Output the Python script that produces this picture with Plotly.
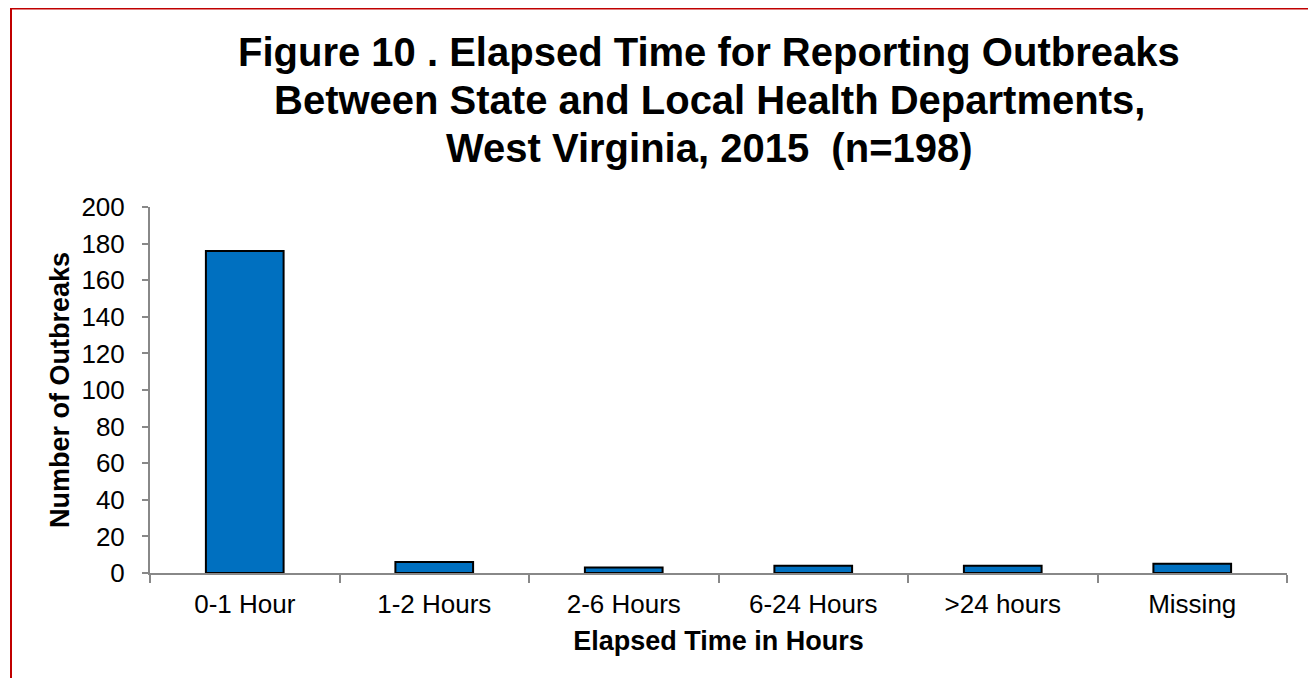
import plotly.graph_objects as go

categories = ["0-1 Hour", "1-2 Hours", "2-6 Hours", "6-24 Hours", ">24 hours", "Missing"]
outbreaks = [176, 6, 3, 4, 4, 5]

title_lines = [
    "Figure 10 . Elapsed Time for Reporting Outbreaks",
    "Between State and Local Health Departments,",
    "West Virginia, 2015  (n=198)",
]

# figure sits 8px in from the page corner (body margin)
W, H = 1308, 670
L, R, T, B = 142, 29, 199, 105
plot_w = W - L - R
plot_h = H - T - B

fig = go.Figure()
fig.add_trace(go.Bar(
    x = categories,
    y = outbreaks,
    marker = dict(color = "#0070C0", line = dict(color = "black", width = 2)),
))

axis_grey = "#888888"

fig.update_layout(
    width = W,
    height = H,
    plot_bgcolor = "white",
    paper_bgcolor = "white",
    showlegend = False,
    bargap = 0.59,
    margin = dict(l = L, r = R, t = T, b = B),
    font = dict(family = "Liberation Sans, Arial, sans-serif", color = "black"),
)

# title, one line per annotation so the line spacing can be matched
for i, line in enumerate(title_lines):
    yc = 44 + 48 * i
    fig.add_annotation(
        text = "<b>" + line + "</b>",
        xref = "paper", yref = "paper",
        x = (701 - L) / plot_w,
        y = (H - B - yc) / plot_h,
        xanchor = "center", yanchor = "middle",
        showarrow = False,
        font = dict(size = 40, color = "black"),
    )

fig.update_xaxes(
    showline = True,
    linecolor = axis_grey,
    linewidth = 2,
    ticks = "outside",
    tickson = "boundaries",
    ticklen = 8,
    tickcolor = axis_grey,
    tickwidth = 1.5,
    ticklabelstandoff = 7,
    tickfont = dict(size = 26),
    title = dict(text = "<b>Elapsed Time in Hours</b>", font = dict(size = 27), standoff = 13),
)

fig.update_yaxes(
    range = [0, 200],
    dtick = 20,
    showgrid = False,
    zeroline = False,
    showline = True,
    linecolor = axis_grey,
    linewidth = 2,
    ticks = "outside",
    ticklen = 6,
    tickcolor = axis_grey,
    tickwidth = 1.5,
    ticklabelstandoff = 12,
    tickfont = dict(size = 26),
    title = dict(text = "<b>Number of Outbreaks</b>", font = dict(size = 27), standoff = 4),
)

# red frame around the whole figure
fig.add_shape(
    type = "rect",
    xref = "paper", yref = "paper",
    x0 = (3 - L) / plot_w, x1 = (1306 - L) / plot_w,
    y0 = (H - B - 720) / plot_h, y1 = (H - B - 0.5) / plot_h,
    line = dict(color = "#C00000", width = 2),
    layer = "below",
)

fig.write_html("out.html")
